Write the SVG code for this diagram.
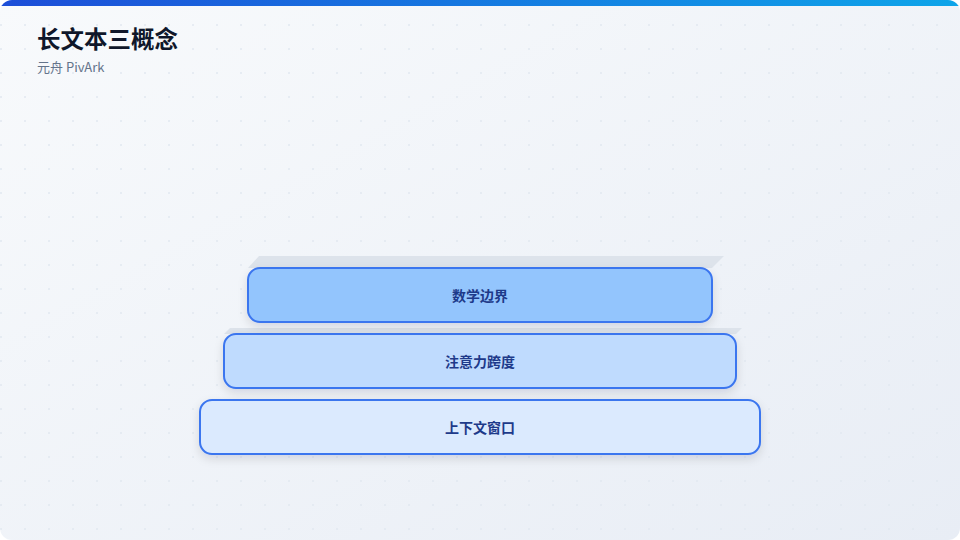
<svg xmlns="http://www.w3.org/2000/svg" width="960" height="540" viewBox="0 0 960 540">
  <defs>
    <linearGradient id="bg" x1="0" y1="0" x2="1" y2="1">
      <stop offset="0" stop-color="#f8fafc"/>
      <stop offset="1" stop-color="#e8edf5"/>
    </linearGradient>
    <linearGradient id="bar" x1="0" y1="0" x2="1" y2="0">
      <stop offset="0" stop-color="#1d4ed8"/>
      <stop offset="1" stop-color="#0ea5e9"/>
    </linearGradient>
    <pattern id="dots" x="0" y="0" width="24" height="24" patternUnits="userSpaceOnUse">
      <circle cx="1" cy="1" r="1" fill="#e2e8f0"/>
    </pattern>
    <clipPath id="card">
      <rect x="0" y="0" width="960" height="540" rx="12"/>
    </clipPath>
    <filter id="shadow" x="-10%" y="-30%" width="120%" height="180%">
      <feDropShadow dx="0" dy="4" stdDeviation="5" flood-color="#0f172a" flood-opacity="0.12"/>
    </filter>
  </defs>
  <style>
    .face { fill: #dde3eb; }
    .box { stroke: #3b76ef; stroke-width: 2; }
    .label { font-family: "Noto Sans CJK SC", "Noto Sans", sans-serif; font-size: 14px; font-weight: 700; fill: #1e3a8a; text-anchor: middle; dominant-baseline: central; }
  </style>
  <rect width="960" height="540" fill="#ffffff"/>
  <g clip-path="url(#card)">
    <rect width="960" height="540" fill="url(#bg)"/>
    <rect width="960" height="540" fill="url(#dots)"/>
    <rect width="960" height="6" fill="url(#bar)"/>
  </g>
  <g id="title">
    <text x="37" y="48" font-family="Noto Sans CJK SC, sans-serif" font-size="23.5" font-weight="700" fill="#0f172a">长文本三概念</text>
    <text x="37" y="72" font-family="Noto Sans CJK SC, Noto Sans, sans-serif" font-size="13" fill="#64748b">元舟 PivArk</text>
  </g>
  <g id="connectors"/>
  <g id="node-bottom">
    <rect class="box" x="200" y="400" width="560" height="54" rx="12" fill="#dbeafe" filter="url(#shadow)"/>
    <text class="label" x="480" y="427">上下文窗口</text>
  </g>
  <g id="node-middle">
    <polygon class="face" points="224,334 230,328 742,328 736,334"/>
    <rect class="box" x="224" y="334" width="512" height="54" rx="12" fill="#bfdbfe" filter="url(#shadow)"/>
    <text class="label" x="480" y="361">注意力跨度</text>
  </g>
  <g id="node-top">
    <polygon class="face" points="248,268 259,256 724,256 712,268"/>
    <rect class="box" x="248" y="268" width="464" height="54" rx="12" fill="#93c5fd" filter="url(#shadow)"/>
    <text class="label" x="480" y="295">数学边界</text>
  </g>
</svg>
